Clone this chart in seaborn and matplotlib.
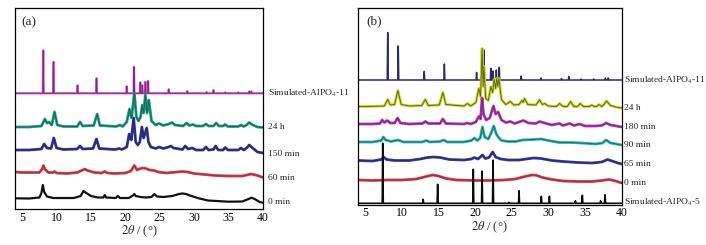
import matplotlib
matplotlib.use("Agg")
import matplotlib.pyplot as plt
import seaborn as sns

# ---- data (2theta, relative intensity) ----
# simulated patterns: stick peak positions / heights
sim11_a_pos = [8.06, 9.56, 13.05, 15.8, 20.2, 21.25, 22.15, 22.45, 22.9, 23.3, 26.3, 29.0, 31.8, 32.8, 34.5, 36.4, 38.0, 38.3]
sim11_a_int = [43, 31.5, 8, 15, 7, 26.5, 11, 8, 11.5, 12.3, 4, 2.3, 1.3, 3.3, 1, 1, 2, 2]

sim11_b_pos = [8.06, 9.5, 13.05, 15.8, 20.2, 20.95, 21.2, 22.15, 22.45, 22.9, 23.3, 26.3, 29.0, 31.8, 32.8, 34.5, 36.2, 37.8, 38.2]
sim11_b_int = [47.5, 34, 8.6, 16, 7.6, 31, 30, 11.7, 9, 10, 12.6, 4, 2, 1.5, 3.5, 1, 1, 2, 2]

sim5_b_pos = [7.38, 12.9, 14.88, 19.75, 20.95, 22.45, 24.6, 26.0, 29.05, 30.15, 33.7, 34.65, 37.15, 37.75]
sim5_b_int = [60, 4, 19, 34, 32, 43, 1, 12.5, 7, 7, 2.5, 8, 2.5, 8.5]

# measured patterns: (2theta, intensity) key points
a_24h = [(4, 0), (6, 0), (7.8, 1), (8.3, 8), (8.6, 4), (8.9, 5), (9.3, 2), (9.7, 15), (10.1, 2), (11, 0.5),
         (13.0, 0.5), (13.4, 5), (13.8, 1), (15.4, 1.5), (15.9, 13), (16.3, 1.5), (18.7, 0.5), (19.2, 2), (19.6, 0.5),
         (20.2, 5), (20.6, 18), (20.9, 9), (21.3, 34), (21.6, 10), (21.9, 6), (22.2, 10), (22.45, 22), (22.65, 14),
         (22.9, 32), (23.15, 14), (23.4, 27), (23.8, 6), (24.4, 2), (24.9, 3.5), (25.5, 1.5), (26.3, 3), (26.8, 4.5),
         (27.2, 2), (28.4, 1), (28.9, 4), (29.3, 1.5), (29.8, 2.5), (30.3, 1), (31.3, 1), (31.7, 3), (32.1, 1),
         (32.8, 1), (33.2, 4), (33.6, 1), (34.2, 1), (34.5, 2.5), (34.9, 0.5), (36.4, 0.5), (36.8, 2), (37.2, 0.5),
         (37.6, 2), (38.0, 4.5), (38.5, 2), (39.2, 0), (40, -0.5)]
a_150min = [(4, 0), (6, 0), (7.8, 1), (8.2, 6), (8.6, 2), (9.2, 1.5), (9.6, 12), (10.0, 2), (11, 0.5), (13.0, 1),
            (13.4, 4), (13.8, 1), (15.3, 1.5), (15.8, 11), (16.2, 1.5), (18.5, 0.5), (19.1, 1.5), (19.5, 0.5),
            (20.2, 3), (20.55, 16), (20.85, 10), (21.2, 32), (21.5, 8), (21.8, 5), (22.1, 8), (22.4, 23), (22.65, 12),
            (23.1, 22), (23.35, 8), (23.7, 3), (24.4, 1.5), (24.9, 3), (25.5, 1.5), (26.3, 3), (26.6, 4), (27.0, 2),
            (28.3, 0.5), (28.7, 4), (29.1, 1), (29.7, 2), (30.3, 0), (31.3, 0), (31.7, 3), (32.1, 0), (32.8, 0.5),
            (33.1, 4), (33.5, 0), (34.2, 0), (34.5, 2.5), (34.9, 0), (36.4, 0), (36.8, 2), (37.2, 0), (37.7, 2.5),
            (38.0, 5), (38.5, 2), (39.2, -2), (40, -3)]
a_60min = [(4, 1), (5, 0.5), (7.5, 0.5), (7.9, 4), (8.1, 7.5), (8.3, 4), (8.8, 0.5), (9.5, 0.5), (9.7, 1.5),
           (10.0, 0), (11.5, -0.5), (13.0, 0.5), (13.8, 3), (14.1, 4), (14.5, 2.5), (15.5, 0.5), (16.5, 0),
           (17.0, 1.5), (17.4, 0), (18.5, -0.5), (20.0, 0), (20.8, 2), (21.3, 7.5), (21.7, 3), (22.0, 4), (22.5, 5),
           (23.0, 4.5), (23.5, 3), (24.2, 2.5), (24.8, 1), (26.0, 0), (27.5, 1), (28.3, 1.5), (29.0, 1), (30.0, -0.5),
           (31.5, -1.5), (33.0, -2.5), (35.0, -3), (37.0, -3), (38.3, -1), (39.2, -2.5), (40, -4.5)]
a_0min = [(4, 0.7), (6, 0.5), (7.5, 1.5), (7.8, 6), (8.0, 14), (8.2, 7), (8.6, 2.5), (9.5, 1), (12.5, 1),
          (13.5, 3), (13.9, 8), (14.3, 6), (15.0, 3), (16.0, 1.5), (16.8, 1.5), (17.0, 4), (17.2, 1.5), (18.6, 1),
          (18.9, 3), (19.2, 1), (20.5, 1), (21.1, 3.5), (21.3, 5), (21.5, 3), (22.2, 2), (23.0, 1.5), (23.8, 2),
          (24.2, 5), (24.6, 2.5), (25.5, 2), (26.8, 3), (27.8, 5), (28.3, 5.5), (28.8, 5), (29.6, 3), (30.5, 1),
          (32.0, -1.5), (35.0, -2.7), (37.0, -2.5), (37.9, 0), (38.3, 1.3), (38.8, 0), (39.5, -3), (40, -3.7)]

b_24h = [(4, 0), (5, 0), (7.6, 0.5), (8.05, 7), (8.4, 1.5), (9.0, 2), (9.45, 16), (9.9, 2), (11, 0.5), (12.7, 1),
         (13.2, 7), (13.6, 1), (15.1, 1.5), (15.6, 14), (16.0, 2), (18.5, 0.5), (18.95, 3), (19.4, 0.5), (20.1, 4),
         (20.5, 18), (20.75, 10), (20.95, 58), (21.1, 20), (21.2, 40), (21.45, 8), (21.8, 6), (22.15, 20), (22.4, 14),
         (22.6, 27), (22.8, 18), (22.95, 28), (23.1, 20), (23.25, 28), (23.6, 7), (24.2, 2), (24.8, 5), (25.3, 1.5),
         (26.0, 2), (26.4, 6), (26.55, 4), (26.75, 8), (27.2, 2), (28.3, 1.5), (28.8, 6.5), (29.2, 2), (29.5, 3),
         (30.0, 0.5), (31.1, 0), (31.55, 3), (32.0, 0), (32.6, 0), (33.05, 5), (33.5, 0), (34.0, 0), (34.35, 3),
         (34.8, 0), (35.6, 0), (35.9, 1.5), (36.3, 0), (36.6, 0), (36.9, 2), (37.3, 0), (37.6, 2), (37.95, 5.5),
         (38.5, 1), (39.2, -0.5), (40, -1.5)]
b_180min = [(4, 0), (6, 0), (7.0, 0.5), (7.3, 4), (7.6, 1.5), (8.0, 3.5), (8.4, 1), (9.0, 1), (9.4, 6), (9.8, 1),
            (11, 0), (12.8, 0.5), (13.2, 2.5), (13.6, 0.5), (15.2, 0.5), (15.6, 5), (16.0, 0.5), (18.5, 0),
            (18.9, 1), (19.4, 0), (20.1, 2), (20.5, 7.5), (20.75, 5), (20.95, 26), (21.15, 10), (21.5, 4), (22.0, 6),
            (22.5, 18), (22.8, 10), (23.15, 12), (23.6, 4), (24.2, 1.5), (24.8, 2.5), (25.4, 0.5), (26.0, 2),
            (26.6, 3.5), (27.3, 1), (28.3, 0.5), (28.8, 2.5), (29.5, 1), (30.5, -1), (31.5, 0.5), (32.0, -1.5),
            (32.9, 0.5), (33.5, -1.5), (34.3, 0), (35.0, -2), (36.5, -2), (37.3, -1.5), (37.9, 1), (38.5, -1),
            (39.3, -2), (40, -3)]
b_90min = [(4, 0), (6, 0), (7.2, 1.5), (7.45, 5), (7.8, 2), (8.5, 0.5), (9.5, 2), (10.2, 0), (12.8, 0), (13.3, 1.5),
           (13.8, 0), (15.2, 0.5), (15.7, 2), (16.2, 0), (18.5, 0), (19.5, 1.5), (19.9, 4), (20.3, 1.5), (20.7, 4),
           (21.0, 15), (21.3, 5), (21.8, 3), (22.2, 9), (22.55, 16), (22.9, 8), (23.15, 5), (23.6, 1.5), (24.5, 0.5),
           (25.5, 0.5), (26.5, 2), (28.0, 2.5), (29.0, 3), (30.0, 1.5), (31.5, -0.5), (33.0, -0.5), (34.5, -1),
           (36.5, -2), (37.4, -1), (37.9, 2), (38.5, -1), (39.3, -2), (40, -3)]
b_65min = [(4, 0), (6, -0.5), (7.2, 1), (7.5, 3.5), (7.9, 1), (9.0, 0), (11, 0), (12.5, 1.5), (13.5, 3), (14.3, 3.5),
           (15.2, 3), (16.5, 1), (18.5, 0.5), (19.5, 1.5), (19.9, 3), (20.4, 1.5), (21.0, 5.5), (21.4, 2), (21.9, 3),
           (22.4, 8.5), (22.8, 3.5), (23.5, 1.5), (24.5, 0.5), (26.0, 0.5), (27.0, 1.5), (28.0, 2.5), (29.0, 2),
           (30.5, 0), (32.0, -1), (34.0, -2), (36.0, -2.5), (37.3, -1.5), (38.1, 1), (38.9, -1), (39.5, -2.5), (40, -3.5)]
b_0min = [(4, 0), (6, -0.5), (8, 0), (10, 0), (12, 1), (13.3, 3.5), (14.2, 5), (15.0, 4), (16.0, 1.5), (17.5, 0),
          (20, -0.5), (22, -0.5), (24, 0), (25.5, 1), (26.8, 3.5), (27.8, 5), (28.3, 4.8), (29.2, 2.5), (30.5, 0.5),
          (32, -1), (34, -1.5), (36, -1.5), (37.3, -0.5), (38.3, 0.5), (39.2, -1), (40, -3)]

labels_a = ["Simulated-AlPO$_4$-11", "24 h", "150 min", "60 min", "0 min"]
labels_b = ["Simulated-AlPO$_4$-11", "24 h", "180 min", "90 min", "65 min", "0 min", "Simulated-AlPO$_4$-5"]

# ---- styling: vertical offsets (px above axis), label heights, colours ----
off_a = [115.7, 82, 59, 36, 10]
lab_y_a = [115.7, 82, 54.7, 30.7, 6.7]
col_a = [("#e25cc4", "#7e2a8c"), ("#15a08c", "#1f4f3c"), ("#3038a0", "#1d1f60"),
         ("#e5323f", "#6b4448"), ("#111111", None)]

off_b = [124.5, 98, 80.5, 62.5, 44, 24.5, 1.2]
lab_y_b = [124.5, 97, 78, 59.5, 40.5, 22, 2.2]
col_b = [("#2b2b68", None), ("#ccd41a", "#3e4a22"), ("#c22fb0", "#4a2f78"), ("#1fb4b4", "#1e5a4c"),
         ("#3238a4", "#23266a"), ("#e3303e", "#6e3c44"), ("#0a0a0a", None)]


def sticks(pos, ints, hw=0.07):
    xs, ys = [4], [0]
    for p, h in zip(pos, ints):
        xs += [p - hw, p, p + hw]
        ys += [0, h, 0]
    xs.append(40)
    ys.append(0)
    return xs, ys


def draw(ax, xs, ys, off, cols, lw=2.0, thin=False):
    yy = [v + off for v in ys]
    under, over = cols
    sns.lineplot(x=xs, y=yy, ax=ax, color=under, lw=lw, sort=False, estimator=None)
    if over:
        sns.lineplot(x=xs, y=yy, ax=ax, color=over, lw=0.7 if thin else 0.6,
                     alpha=1 if thin else 0.85, sort=False, estimator=None)


sns.set_theme(style="white")
plt.rcParams["font.family"] = ["Liberation Serif", "DejaVu Serif"]
plt.rcParams["mathtext.fontset"] = "stix"

fig = plt.figure(figsize=(7.06, 2.45), dpi=100)
ax_a = fig.add_axes([15.3 / 706, 36 / 245, (263 - 15.3) / 706, 201 / 245])
ax_b = fig.add_axes([358 / 706, 40.5 / 245, (621.5 - 358) / 706, 196.5 / 245])

# panel (a)
xs, ys = sticks(sim11_a_pos, sim11_a_int)
draw(ax_a, xs, ys, off_a[0], col_a[0], lw=1.6, thin=True)
for data, off, cols in zip([a_24h, a_150min, a_60min, a_0min], off_a[1:], col_a[1:]):
    xs = [p[0] for p in data]
    ys = [p[1] for p in data]
    draw(ax_a, xs, ys, off, cols, lw=2.0 if cols[1] else 1.6)

# panel (b)
xs, ys = sticks(sim11_b_pos, sim11_b_int)
draw(ax_b, xs, ys, off_b[0], col_b[0], lw=1.1, thin=True)
for data, off, cols in zip([b_24h, b_180min, b_90min, b_65min, b_0min], off_b[1:6], col_b[1:6]):
    xs = [p[0] for p in data]
    ys = [p[1] for p in data]
    draw(ax_b, xs, ys, off, cols)
xs, ys = sticks(sim5_b_pos, sim5_b_int)
draw(ax_b, xs, ys, off_b[6], col_b[6], lw=1.2, thin=True)

for ax, labels, lab_y, lx, ylim, tag, tx in [
        (ax_a, labels_a, lab_y_a, 1.02, 201, "(a)", 0.026),
        (ax_b, labels_b, lab_y_b, 1.011, 196.5, "(b)", 0.032)]:
    ax.set_xlim(4, 40)
    ax.set_ylim(0, ylim)
    ax.set_xticks([5, 10, 15, 20, 25, 30, 35, 40])
    ax.set_yticks([])
    ax.tick_params(axis="x", direction="in", length=3, width=0.8, labelsize=8.5, pad=2, colors="black")
    for sp in ax.spines.values():
        sp.set_color("black")
        sp.set_linewidth(0.9)
    ax.set_xlabel(r"$\mathit{2\theta}$ / (°)", fontsize=9, labelpad=0)
    ax.text(tx, 0.93, tag, transform=ax.transAxes, fontsize=9.5, va="center", ha="left")
    for lab, y in zip(labels, lab_y):
        ax.text(lx, y, lab, transform=ax.get_yaxis_transform(), fontsize=6.8, va="center", ha="left",
                clip_on=False)

fig.savefig("out.png", dpi=100, facecolor="white")
